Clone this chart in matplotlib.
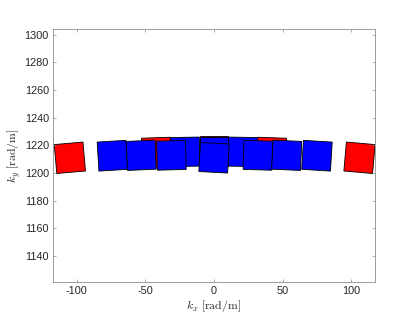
import numpy as np
import matplotlib
matplotlib.use("Agg")
import matplotlib.pyplot as plt
from matplotlib.patches import Rectangle
import matplotlib.transforms as mtransforms

plt.rcParams['mathtext.fontset'] = 'cm'
plt.rcParams['font.family'] = ['Liberation Sans', 'DejaVu Sans']

# Tile data: centre kx, centre ky [rad/m], rotation angle [deg]
red_kx = [-105, -42, 0, 42, 106]
red_ky = [1211, 1215, 1216, 1215, 1211]
red_ang = [5, 2, 0, -2, -5]

blue_kx = [-21, 0, 21, -74, -53, -31, 32, 53, 75, 0]
blue_ky = [1215.3, 1215.3, 1215.3, 1212.5, 1212.8, 1212.8, 1212.8, 1212.8, 1212.5, 1211]
blue_ang = [1, 0, -1, 3.5, 2.5, 1.5, -1.5, -2.5, -3.5, -3]

side = 21.0

xticks = [-100, -50, 0, 50, 100]
yticks = [1140, 1160, 1180, 1200, 1220, 1240, 1260, 1280, 1300]

fig = plt.figure(figsize=(4.15, 3.22), dpi=100)
ax = fig.add_axes([53/415, 1-282/322, (375-53)/415, (282-29)/322])


def add_tiles(xs, ys, angs, color):
    for x, y, a in zip(xs, ys, angs):
        r = Rectangle((x - side/2, y - side/2), side, side,
                      facecolor=color, edgecolor='black', linewidth=0.6)
        t = mtransforms.Affine2D().rotate_deg_around(x, y, a) + ax.transData
        r.set_transform(t)
        ax.add_patch(r)


add_tiles(red_kx, red_ky, red_ang, (1, 0, 0))
add_tiles(blue_kx, blue_ky, blue_ang, (0, 0, 1))

ax.set_xlim(-117.3, 117.3)
ax.set_ylim(1121.2, 1304.1)
ax.set_xticks(xticks)
ax.set_yticks(yticks)
ax.set_xticklabels([str(v) for v in xticks])
ax.set_yticklabels([str(v) for v in yticks])

for s in ax.spines.values():
    s.set_color('0.55')
    s.set_linewidth(0.6)
ax.tick_params(direction='in', top=True, right=True, length=2.5, width=0.5,
               color='0.55', labelsize=7.8, labelcolor='0.15', pad=3)

ax.set_xlabel(r'$k_x\ \mathrm{[rad/m]}$', fontsize=8.5, color='0.15', labelpad=1)
ax.set_ylabel(r'$k_y\ \mathrm{[rad/m]}$', fontsize=8.5, color='0.15', labelpad=1)

fig.savefig('out.png', dpi=100)
